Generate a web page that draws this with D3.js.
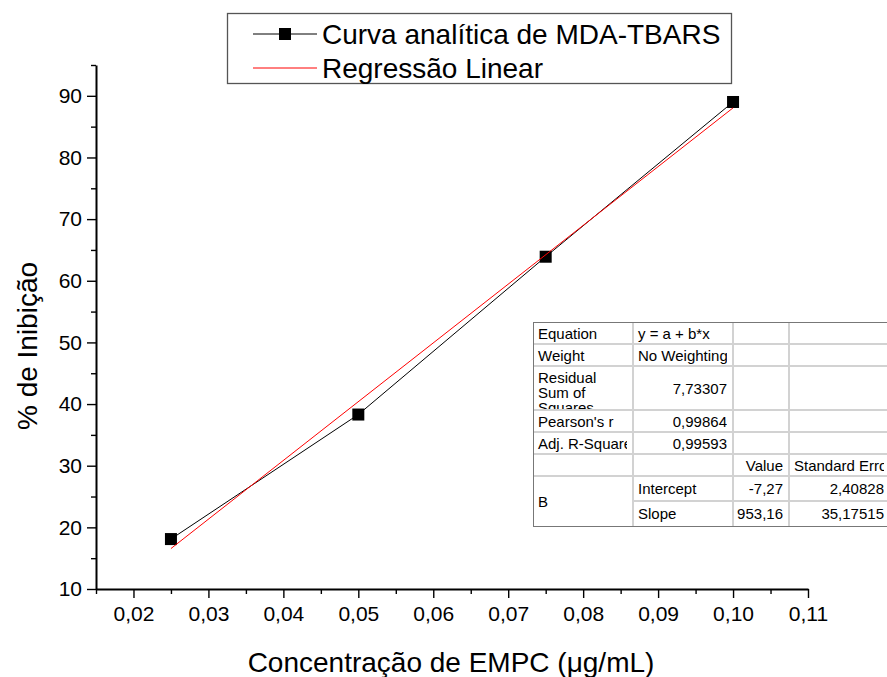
<!DOCTYPE html>
<html>
<head>
<meta charset="utf-8">
<script src="https://cdn.jsdelivr.net/npm/d3@7"></script>
<style>
  html, body { margin: 0; padding: 0; background: #fff; }
  text { font-family: "Liberation Sans", Arial, sans-serif; }
</style>
</head>
<body>
<div id="chart"></div>
<script>
// data
const conc = [0.025, 0.05, 0.075, 0.10];
const inhibition = [18.1, 38.3, 63.9, 89.0];
const fitIntercept = -7.27;
const fitSlope = 953.16;
const xTicks = [0.02, 0.03, 0.04, 0.05, 0.06, 0.07, 0.08, 0.09, 0.10, 0.11];
const xMinor = [0.015, 0.025, 0.035, 0.045, 0.055, 0.065, 0.075, 0.085, 0.095, 0.105];
const yTicks = [10, 20, 30, 40, 50, 60, 70, 80, 90];
const yMinor = [15, 25, 35, 45, 55, 65, 75, 85, 95];
const legendLabels = ["Curva analítica de MDA-TBARS", "Regressão Linear"];

// stats table (Origin style)
const tableRows = [
  ["Equation", "y = a + b*x", "", ""],
  ["Weight", "No Weighting", "", ""],
  ["Residual\nSum of\nSquares", "7,73307", "", ""],
  ["Pearson's r", "0,99864", "", ""],
  ["Adj. R-Square", "0,99593", "", ""],
  ["", "", "Value", "Standard Error"],
  ["B", "Intercept", "-7,27", "2,40828"],
  ["", "Slope", "953,16", "35,17515"]
];

const W = 887, H = 677;
const X0 = 96, X1 = 808, Y0 = 589, Y1 = 65;

const svg = d3.select("#chart").append("svg")
  .attr("width", W).attr("height", H);

const x = d3.scaleLinear().domain([0.015, 0.11]).range([X0, X1]);
const y = d3.scaleLinear().domain([10, 95]).range([Y0, Y1]);

const loc = d3.formatLocale({ decimal: ",", thousands: ".", grouping: [3], currency: ["", ""] });
const fmt2 = loc.format(".2f");

// minor ticks
svg.append("g").attr("transform", `translate(0,${Y0})`)
  .call(d3.axisBottom(x).tickValues(xMinor).tickSize(5).tickFormat(""))
  .call(g => g.select(".domain").remove());
svg.append("g").attr("transform", `translate(${X0},0)`)
  .call(d3.axisLeft(y).tickValues(yMinor).tickSize(5).tickFormat(""))
  .call(g => g.select(".domain").remove());

// major axes
const xAxis = svg.append("g").attr("transform", `translate(0,${Y0})`)
  .call(d3.axisBottom(x).tickValues(xTicks).tickSize(9).tickSizeOuter(0).tickPadding(8).tickFormat(fmt2));
const yAxis = svg.append("g").attr("transform", `translate(${X0},0)`)
  .call(d3.axisLeft(y).tickValues(yTicks).tickSize(9).tickSizeOuter(0).tickPadding(5));

svg.selectAll(".tick line").attr("stroke", "#000").attr("stroke-width", 1.4);
xAxis.select(".domain").attr("stroke-width", 2);
yAxis.select(".domain").attr("stroke-width", 2);
svg.selectAll(".tick text")
  .attr("font-family", "Liberation Sans, Arial, sans-serif")
  .attr("font-size", "21px")
  .attr("fill", "#000");

// axis titles
svg.append("text")
  .attr("x", (X0 + X1) / 2 - 1).attr("y", 672)
  .attr("text-anchor", "middle")
  .attr("font-size", "28px")
  .text("Concentração de EMPC (μg/mL)");

svg.append("text")
  .attr("transform", "translate(37,346) rotate(-90)")
  .attr("text-anchor", "middle")
  .attr("font-size", "28px")
  .text("% de Inibição");

// series
const pts = conc.map((c, i) => ({ c, v: inhibition[i] }));

svg.append("path")
  .datum(pts)
  .attr("fill", "none")
  .attr("stroke", "#000")
  .attr("stroke-width", 1)
  .attr("d", d3.line().x(d => x(d.c)).y(d => y(d.v)));

svg.selectAll(".pt")
  .data(pts)
  .enter().append("rect")
  .attr("class", "pt")
  .attr("x", d => x(d.c) - 6)
  .attr("y", d => y(d.v) - 6)
  .attr("width", 12)
  .attr("height", 12)
  .attr("fill", "#000");

const fitX = [d3.min(conc), d3.max(conc)];
svg.append("path")
  .datum(fitX)
  .attr("fill", "none")
  .attr("stroke", "#ff0000")
  .attr("stroke-width", 1)
  .attr("d", d3.line().x(d => x(d)).y(d => y(fitIntercept + fitSlope * d)));

// legend
const lg = svg.append("g");
lg.append("rect")
  .attr("x", 227.5).attr("y", 13.5).attr("width", 504).attr("height", 70)
  .attr("fill", "#fff").attr("stroke", "#555").attr("stroke-width", 1.3);
lg.append("line")
  .attr("x1", 253).attr("x2", 317).attr("y1", 34).attr("y2", 34)
  .attr("stroke", "#000").attr("stroke-width", 1);
lg.append("rect")
  .attr("x", 279).attr("y", 28).attr("width", 12).attr("height", 12).attr("fill", "#000");
lg.append("line")
  .attr("x1", 253).attr("x2", 317).attr("y1", 68).attr("y2", 68)
  .attr("stroke", "#ff0000").attr("stroke-width", 1);
lg.selectAll(".lt")
  .data(legendLabels)
  .enter().append("text")
  .attr("x", 322)
  .attr("y", (d, i) => 43.5 + i * 34)
  .attr("font-size", "28px")
  .text(d => d);

// stats table
const colX = [533, 633, 733, 789, 890];
const rowY = [322, 344, 366, 410, 432, 454, 476, 501, 526];
const alignRight = (r, c) => (c === 1 && r >= 2 && r <= 4) || (c >= 2 && r >= 6) || (c === 2 && r === 5);

const tb = svg.append("g").attr("font-size", "15px");
tb.append("rect")
  .attr("x", colX[0]).attr("y", rowY[0])
  .attr("width", colX[4] - colX[0]).attr("height", rowY[8] - rowY[0])
  .attr("fill", "#fff");

// grid lines
const defs = svg.append("defs");
rowY.slice(1, -1).forEach((ry, i) => {
  const startX = (i + 1 === 7) ? colX[1] : colX[0];
  tb.append("line")
    .attr("x1", startX).attr("x2", colX[4]).attr("y1", ry).attr("y2", ry)
    .attr("stroke", "#d2d2d2").attr("stroke-width", 2);
});
colX.slice(1, -1).forEach(cx => {
  tb.append("line")
    .attr("x1", cx).attr("x2", cx).attr("y1", rowY[0]).attr("y2", rowY[8])
    .attr("stroke", "#d2d2d2").attr("stroke-width", 2);
});
tb.append("rect")
  .attr("x", colX[0] + 0.5).attr("y", rowY[0] + 0.5)
  .attr("width", colX[4] - colX[0]).attr("height", rowY[8] - rowY[0])
  .attr("fill", "none").attr("stroke", "#777").attr("stroke-width", 1);

tableRows.forEach((row, r) => {
  row.forEach((cell, c) => {
    if (!cell) return;
    let top = rowY[r], bottom = rowY[r + 1];
    if (r === 6 && c === 0) bottom = rowY[8];
    const left = colX[c], right = colX[c + 1];
    const id = `clip-${r}-${c}`;
    defs.append("clipPath").attr("id", id)
      .append("rect").attr("x", left).attr("y", top + 1)
      .attr("width", right - left - 6).attr("height", bottom - top - 2);
    const lines = cell.split("\n");
    const right_ = alignRight(r, c);
    const t = tb.append("text")
      .attr("clip-path", `url(#${id})`)
      .attr("text-anchor", right_ ? "end" : "start");
    const tx = right_ ? right - 6 : left + 5;
    const y0 = lines.length > 1 ? top + 17 : (top + bottom) / 2 + 5.5;
    lines.forEach((ln, k) => {
      t.append("tspan").attr("x", tx).attr("y", y0 + k * 15).text(ln);
    });
  });
});
</script>
</body>
</html>
